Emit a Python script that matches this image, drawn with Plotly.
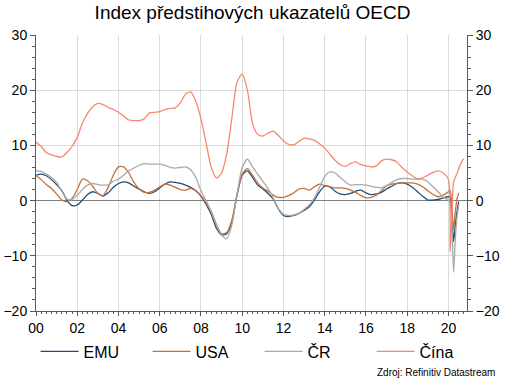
import plotly.graph_objects as go

# Quarterly values 2000Q1 .. 2019Q4 (start year 2000, step 0.25)
emu_q = [4.6, 4.8, 4.5, 3.8, 2.9, 1.8, 0.1, -0.9, -0.8, 0.1, 1.1, 1.6, 1.3, 0.8, 1.4, 2.4,
         3.1, 3.4, 3.2, 2.6, 2.1, 1.6, 1.3, 1.6, 2.3, 3.0, 3.4, 3.3, 3.1, 2.8, 2.4, 1.8,
         0.8, -0.7, -2.5, -5.0, -6.2, -6.0, -3.8, 1.0, 4.6, 5.4, 4.2, 2.8, 2.1, 1.3, 0.3, -1.5,
         -2.7, -2.9, -2.7, -2.3, -1.8, -1.1, 0.1, 1.6, 2.6, 2.5, 1.7, 1.2, 1.1, 1.3, 1.7, 1.9,
         1.4, 1.1, 1.2, 1.5, 2.1, 2.6, 3.1, 3.2, 3.0, 2.4, 1.6, 0.8, 0.1, 0.1, 0.2, 0.5]
usa_q = [4.5, 3.8, 2.9, 2.2, 1.2, 0.1, -0.2, 0.4, 2.0, 3.9, 3.6, 2.6, 1.3, 0.9, 2.4, 4.6,
         6.1, 6.1, 5.0, 3.3, 2.1, 1.5, 1.5, 1.9, 2.5, 3.0, 2.8, 2.4, 2.0, 1.9, 2.2, 1.8,
         0.9, -0.4, -2.0, -4.4, -6.0, -5.8, -3.5, 1.2, 4.8, 5.8, 4.6, 3.2, 2.3, 1.7, 1.0, 0.6,
         0.6, 0.9, 1.4, 2.1, 2.2, 1.9, 2.5, 3.0, 2.7, 2.5, 2.3, 2.3, 2.2, 1.9, 1.5, 0.9,
         0.5, 0.6, 1.0, 1.8, 2.7, 3.0, 3.1, 3.2, 3.2, 3.2, 3.0, 2.5, 1.8, 1.1, 0.7, 1.0]
cr_q = [5.4, 5.3, 4.8, 4.2, 3.3, 1.7, 0.3, 0.2, 1.0, 2.0, 2.8, 3.1, 2.9, 2.8, 2.9, 3.5,
        3.9, 4.6, 5.4, 5.9, 6.4, 6.7, 6.6, 6.6, 6.6, 6.4, 6.0, 5.9, 6.0, 6.1, 5.6, 4.2,
        1.8, 0.0, -2.0, -4.3, -6.2, -6.9, -4.4, 1.2, 6.0, 7.5, 6.1, 4.8, 3.5, 2.2, 0.5, -1.4,
        -2.5, -2.7, -2.6, -2.3, -1.6, -0.8, 0.5, 2.4, 4.4, 5.2, 5.0, 4.2, 3.4, 2.8, 2.9, 2.9,
        2.8, 2.6, 2.4, 2.3, 2.7, 3.3, 3.8, 4.0, 4.0, 3.9, 3.9, 3.9, 3.4, 2.5, 1.6, 0.6]
cina_q = [10.6, 9.8, 8.7, 8.3, 8.0, 7.9, 8.7, 9.8, 11.5, 14.0, 15.8, 17.0, 17.6, 17.4, 16.9, 16.5,
          16.0, 15.3, 14.6, 14.5, 14.5, 14.8, 15.9, 16.0, 16.1, 16.5, 16.7, 16.8, 17.7, 19.3, 19.7, 18.0,
          14.8, 10.4, 6.0, 4.1, 5.0, 8.5, 15.0, 21.5, 22.9, 20.0, 14.0, 12.0, 11.7, 12.2, 12.6, 11.8,
          10.8, 10.2, 10.1, 10.7, 11.3, 11.2, 10.9, 10.3, 9.5, 8.4, 7.3, 6.5, 6.2, 6.7, 7.0, 6.5,
          6.3, 6.1, 6.3, 7.2, 7.5, 7.4, 7.0, 6.0, 5.2, 4.5, 3.9, 4.1, 4.6, 5.1, 5.4, 5.0]

# Monthly values 2020 (from January)
emu_m = [0.7, 0.6, -2.5, -7.4, -4.5, -2.0, -0.2]
usa_m = [1.6, 1.9, -1.0, -5.3, -2.0, 0.3, 1.4]
cr_m = [0.1, -0.5, -4.0, -13.0, -7.0, -3.0, -0.8]
cina_m = [3.8, -9.3, -3.0, 3.4, 4.2, 4.9, 5.8, 6.6, 7.2, 7.6]

tick_years = list(range(2000, 2021, 2))
tick_labels = ["00", "02", "04", "06", "08", "10", "12", "14", "16", "18", "20"]

names = ["EMU", "USA", "ČR", "Čína"]
colors = ["#1F4E79", "#C4703A", "#A9A9A9", "#F8876E"]


def xs(q, m):
    return [2000 + i * 0.25 for i in range(len(q))] + [2020 + j / 12 for j in range(len(m))]


series = [(emu_q, emu_m), (usa_q, usa_m), (cr_q, cr_m), (cina_q, cina_m)]

fig = go.Figure()
for k, (q, m) in enumerate(series):
    fig.add_trace(go.Scatter(
        x=xs(q, m), y=q + m, name=names[k], mode="lines",
        line=dict(color=colors[k], width=1.3, shape="spline", smoothing=0.7),
        yaxis="y2" if k == 3 else "y",
    ))

font = "Liberation Sans, Arial, sans-serif"
yax = dict(range=[-20, 30], dtick=10, showgrid=True, gridcolor="#DCDCDC", gridwidth=1,
           zeroline=True, zerolinecolor="#7F7F7F", zerolinewidth=1.2,
           showline=True, linecolor="#595959", linewidth=1, automargin=False,
           ticks="outside", ticklen=5, tickcolor="#595959",
           minor=dict(dtick=2, ticks="outside", ticklen=3, tickcolor="#595959", showgrid=False),
           tickfont=dict(size=14, color="#000000", family=font))

fig.update_layout(
    width=505, height=379,
    margin=dict(l=36, r=38, t=35, b=68, autoexpand=False),
    paper_bgcolor="white", plot_bgcolor="white",
    title=dict(text="Index předstihových ukazatelů OECD", x=0.5, xanchor="center", y=0.985, yanchor="top",
               font=dict(size=19, color="#000000", family=font)),
    font=dict(family=font),
    xaxis=dict(range=[2000, 2020.9], tickvals=tick_years, ticktext=tick_labels,
               showgrid=True, gridcolor="#DCDCDC", gridwidth=1, zeroline=False,
               showline=True, linecolor="#595959", linewidth=1, automargin=False,
               ticks="outside", ticklen=4, tickcolor="#595959",
               minor=dict(dtick=0.25, tick0=2000, ticks="outside", ticklen=2, tickcolor="#595959", showgrid=False),
               tickfont=dict(size=14, color="#000000", family=font)),
    yaxis=yax,
    yaxis2=dict(yax, overlaying="y", side="right", showgrid=False, zeroline=False),
    legend=dict(orientation="h", x=-0.001, xanchor="left", y=-0.085, yanchor="top",
                font=dict(size=16, color="#000000", family=font), entrywidth=59,
                traceorder="normal", itemwidth=38),
    showlegend=True,
    annotations=[dict(text="Zdroj: Refinitiv Datastream", xref="paper", yref="paper",
                      x=1.07, y=-0.195, xanchor="right", yanchor="top", showarrow=False,
                      font=dict(size=10, color="#000000", family=font))],
)

fig.write_html("out.html", config={"displayModeBar": False},
               post_script="document.body.style.margin='0';document.body.style.overflow='hidden';")
